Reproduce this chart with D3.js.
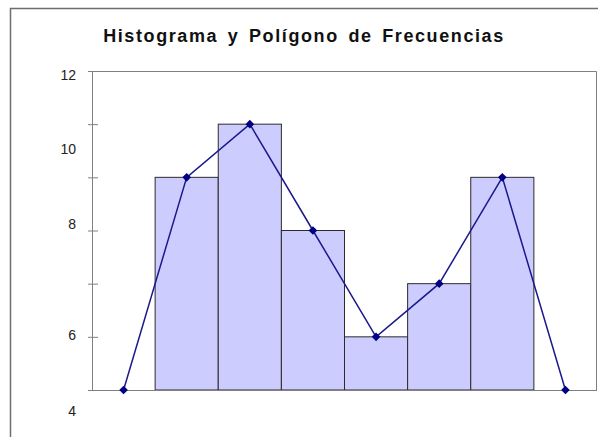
<!DOCTYPE html>
<html>
<head>
<meta charset="utf-8">
<script src="https://cdn.jsdelivr.net/npm/d3@7"></script>
<style>
	body { margin: 0; background: #fff; }
	svg { display: block; font-family: Arial, 'Liberation Sans', sans-serif; }
</style>
</head>
<body>
<div class="histo-poly"></div>
<script>
// data
const classes = ['c0', 'c1', 'c2', 'c3', 'c4', 'c5', 'c6', 'c7'];
const barClasses = ['c1', 'c2', 'c3', 'c4', 'c5', 'c6'];
const frequencies = [8, 10, 6, 2, 4, 8];
const polygon = [0, 8, 10, 6, 2, 4, 8, 0];
const yTicks = [0, 2, 4, 6, 8, 10, 12];
const yLabels = ['12', '10', '8', '6', '4'];
const yLabelAt = [11.85, 9.05, 6.25, 2.05, -0.8];
const title = 'Histograma y Polígono de Frecuencias';

function drawChart() {
	let width = 598,
		height = 437,
		margin = { top: 71, right: 1, bottom: 47, left: 92 },
		innerW = width - margin.left - margin.right,
		innerH = height - margin.top - margin.bottom,
		xScale = d3.scaleBand().domain(classes).range([0, innerW]).padding(0),
		yScale = d3.scaleLinear().domain([0, 12]).range([innerH, 0]),
		svg = null,
		g = null;

	svg = d3.select('.histo-poly').append('svg')
		.attr('width', width)
		.attr('height', height);

	// outer chart border
	svg.append('rect')
		.attr('x', 10.5).attr('y', 8.5)
		.attr('width', 620).attr('height', 460)
		.attr('fill', 'none')
		.attr('stroke', '#6e6e6e')
		.attr('stroke-width', 1.5);

	svg.append('text')
		.attr('x', 304)
		.attr('y', 42)
		.attr('text-anchor', 'middle')
		.attr('font-size', 18)
		.attr('font-weight', 'bold')
		.attr('letter-spacing', 1.6)
		.attr('word-spacing', 3)
		.attr('fill', '#111')
		.text(title);

	g = svg.append('g').attr('transform', 'translate(' + margin.left + ',' + margin.top + ')');

	// plot area frame (top and right)
	g.append('path')
		.attr('d', 'M-4,0.5H' + (innerW - 0.5) + 'V' + innerH)
		.attr('fill', 'none')
		.attr('stroke', '#808080');

	// bars
	g.selectAll('rect.bar')
		.data(frequencies)
		.enter().append('rect')
		.attr('class', 'bar')
		.attr('x', (d, i) => xScale(barClasses[i]))
		.attr('y', d => yScale(d))
		.attr('width', xScale.bandwidth())
		.attr('height', d => innerH - yScale(d))
		.attr('fill', '#ccccff')
		.attr('stroke', '#2b2b2b')
		.attr('stroke-width', 1);

	// y axis with crossing ticks
	let yAxis = g.append('g')
		.call(d3.axisLeft(yScale).tickValues(yTicks).tickSize(5).tickFormat(''));
	yAxis.select('.domain').attr('stroke', '#808080').attr('d', 'M0.5,0V' + innerH);
	yAxis.selectAll('.tick line').attr('stroke', '#808080').attr('x2', -4).attr('x1', 6);

	// x axis line
	g.append('line')
		.attr('x1', -4).attr('x2', innerW)
		.attr('y1', innerH + 0.5).attr('y2', innerH + 0.5)
		.attr('stroke', '#808080');

	// y labels
	g.selectAll('text.ylab')
		.data(yLabels)
		.enter().append('text')
		.attr('class', 'ylab')
		.attr('x', -16)
		.attr('y', (d, i) => yScale(yLabelAt[i]))
		.attr('dy', '0.35em')
		.attr('text-anchor', 'end')
		.attr('font-size', 14)
		.attr('fill', '#222')
		.text(d => d);

	// frequency polygon
	let line = d3.line()
		.x((d, i) => xScale(classes[i]) + xScale.bandwidth() / 2)
		.y(d => yScale(d));

	g.append('path')
		.datum(polygon)
		.attr('fill', 'none')
		.attr('stroke', '#1a1a8c')
		.attr('stroke-width', 1.5)
		.attr('d', line);

	g.selectAll('path.marker')
		.data(polygon)
		.enter().append('path')
		.attr('class', 'marker')
		.attr('d', d3.symbol().type(d3.symbolDiamond2).size(48))
		.attr('transform', (d, i) => 'translate(' + (xScale(classes[i]) + xScale.bandwidth() / 2) + ',' + yScale(d) + ')')
		.attr('fill', '#000080');
}

drawChart();
</script>
</body>
</html>
